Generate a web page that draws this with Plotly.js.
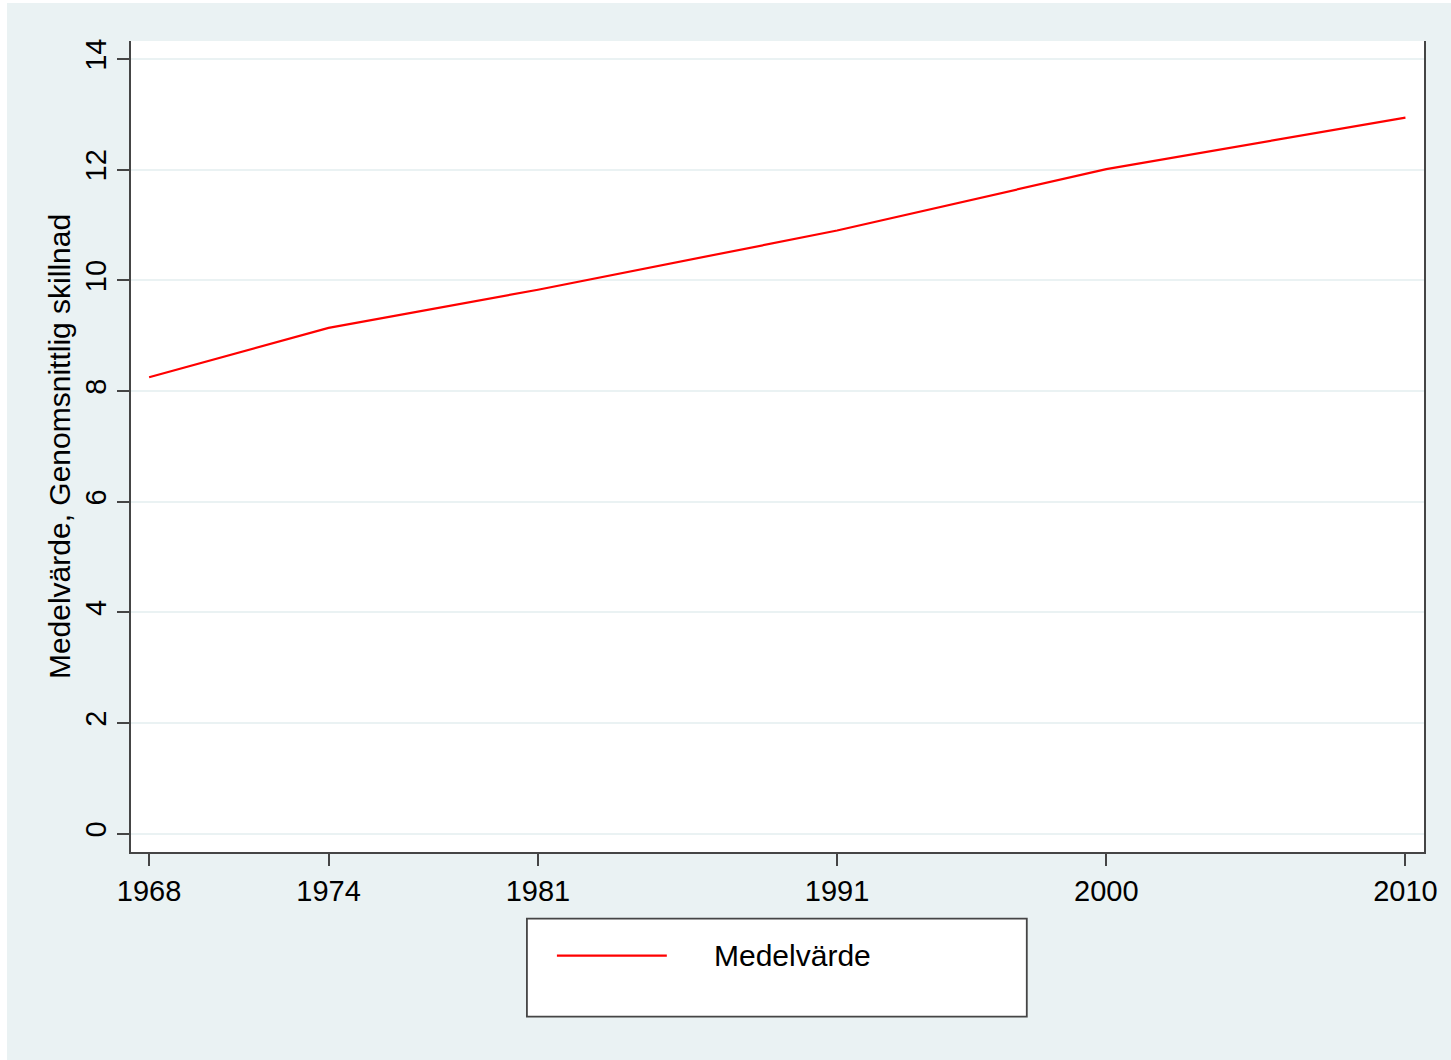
<!DOCTYPE html>
<html>
<head>
<meta charset="utf-8">
<script src="https://cdn.plot.ly/plotly-3.0.1.min.js"></script>
<style>
  html, body { margin: 0; padding: 0; background: #ffffff; }
  #chart { position: absolute; left: 7px; top: 3px; width: 1444px; height: 1057px; }
</style>
</head>
<body>
<div id="chart"></div>
<script>
// data
const years = [1968, 1974, 1981, 1991, 2000, 2010];
const medelvarde = [8.25, 9.14, 9.83, 10.90, 12.01, 12.94];
const yTicks = [0, 2, 4, 6, 8, 10, 12, 14];
const seriesName = 'Medelvärde';
const yTitle = 'Medelvärde, Genomsnittlig skillnad';

const BG = '#eaf2f3';
const AXIS = '#454545';
const FONT = 'Liberation Sans, Arial, sans-serif';

function plotChart() {
    let trace = {
        mode: 'lines',
        x: years,
        y: medelvarde,
        name: seriesName,
        line: { color: '#ff0000', width: 2.2 },
        showlegend: false,
        hoverinfo: 'x+y'
    };

    // legend drawn Stata-style below the plot
    const layout = {
        width: 1444,
        height: 1057,
        paper_bgcolor: BG,
        plot_bgcolor: '#ffffff',
        margin: { l: 124, r: 27, t: 38, b: 208 },
        font: { family: FONT, size: 29, color: '#000' },
        xaxis: {
            range: [1967.395, 2010.62],
            tickvals: years,
            ticktext: years.map(String),
            ticks: 'outside',
            ticklen: 12,
            tickwidth: 1.5,
            tickcolor: AXIS,
            showline: true,
            linecolor: AXIS,
            linewidth: 1.8,
            showgrid: false,
            zeroline: false,
            tickfont: { size: 29 }
        },
        yaxis: {
            range: [-0.33, 14.325],
            tickvals: yTicks,
            ticks: 'outside',
            ticklen: 12,
            tickwidth: 1.5,
            tickcolor: AXIS,
            tickangle: -90,
            showline: true,
            mirror: true,
            linecolor: AXIS,
            linewidth: 1.8,
            showgrid: true,
            gridcolor: BG,
            gridwidth: 2,
            zeroline: false,
            tickfont: { size: 29 },
            title: { text: yTitle, font: { size: 30 }, standoff: 0 }
        },
        shapes: [
            {
                type: 'rect', xref: 'paper', yref: 'paper',
                x0: 0.3062, x1: 0.6928, y0: -0.0822, y1: -0.2030,
                fillcolor: '#ffffff',
                line: { color: AXIS, width: 1.8 }
            },
            {
                type: 'line', xref: 'paper', yref: 'paper',
                x0: 0.3294, x1: 0.4144, y0: -0.1278, y1: -0.1278,
                line: { color: '#ff0000', width: 2.2 }
            }
        ],
        annotations: [
            {
                text: seriesName, xref: 'paper', yref: 'paper',
                x: 0.4492, y: -0.1278, xanchor: 'left', yanchor: 'middle',
                showarrow: false, font: { size: 30, color: '#000' }
            }
        ]
    };

    Plotly.newPlot('chart', [trace], layout, { displayModeBar: false });
}

plotChart();
</script>
</body>
</html>
